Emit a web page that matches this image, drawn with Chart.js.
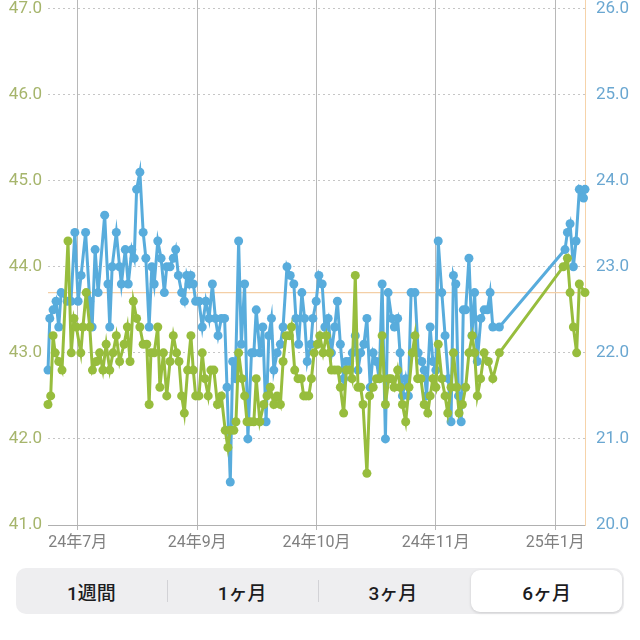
<!DOCTYPE html>
<html lang="ja">
<head>
  <meta charset="UTF-8" />
  <title>体重グラフ</title>
  <script src="https://cdn.jsdelivr.net/npm/chart.js"></script>
  <style>
    body { margin: 0; padding: 0; background: #fff; width: 640px; height: 640px; overflow: hidden; position: relative; font-family: Roboto, "Noto Sans CJK JP", sans-serif; }
    .chart-box { position: absolute; left: 0; top: -11px; width: 640px; height: 570px; }
    .segment { position: absolute; left: 16px; top: 568px; width: 608px; height: 46px; background: #eeeef0; border-radius: 10px; display: flex; }
    .segment div { flex: 1; position: relative; display: flex; align-items: center; justify-content: center; font-size: 19px; font-weight: 500; color: #1c1c1e; }
    .segment div + div::before { content: ""; position: absolute; left: 0; top: 12px; height: 22px; border-left: 1px solid #d2d2d6; }
    .segment .active { background: #fff; border-radius: 9px; margin: 2px 2px 2px 3px; box-shadow: 0 1px 3px rgba(0,0,0,0.15); }
    .segment .active::before, .segment .active + div::before { display: none; }
  </style>
</head>
<body>
  <div class="chart-box"><canvas id="weightChart"></canvas></div>

  <div class="segment">
    <div>1週間</div>
    <div>1ヶ月</div>
    <div>3ヶ月</div>
    <div class="active">6ヶ月</div>
  </div>

  <script>
    // x = days from the left edge of the 6-month range
    const tickDays = [10, 50, 90, 130, 170];
    const tickLabels = ["24年7月", "24年9月", "24年10月", "24年11月", "25年1月"];
    const targetWeight = 43.7;

    const weightDays = [0,0.9,1.7,2.4,3.6,4.7,6.7,7.8,8.7,9.5,
      11.0,11.7,12.8,14.0,14.9,16.2,17.3,18.4,19.5,20.7,
      21.8,22.9,24.0,25.5,26.6,27.5,28.6,29.7,30.8,31.9,
      33.1,33.9,34.5,35.6,36.8,37.5,38.7,39.8,40.9,42.0,
      43.1,43.9,44.8,45.7,46.8,47.9,48.7,49.5,50.6,51.7,
      52.6,53.7,54.6,55.6,56.8,58.1,59.4,60.3,61.1,62.3,
      63.0,63.9,65.0,65.9,66.7,67.8,69.0,69.8,71.0,72.3,
      73.4,74.5,75.7,76.8,77.9,78.8,79.8,80.9,81.6,82.7,
      83.8,84.9,85.7,86.5,87.4,88.3,89.2,90.3,91.1,92.2,
      93.3,94.4,95.0,96.1,97.2,98.0,99.1,100.0,101.1,101.9,
      103.0,103.9,104.8,105.6,106.9,107.8,109.0,110.1,111.2,112.0,
      113.1,114.2,115.0,116.0,117.2,118.0,118.8,119.9,121.0,122.1,
      123.0,123.9,125.0,126.1,127.3,128.1,129.0,130.0,130.8,132.0,
      133.1,134.0,135.1,135.9,137.0,137.8,138.9,140.0,141.1,142.2,
      143.0,143.9,145.0,146.2,147.6,149.1,151.3,172.7,174.1,175.0,
      176.1,177.2,178.1,180.0];
    const weightValues = [42.4,42.5,43.2,43.0,42.9,42.8,44.3,43.0,43.4,43.3,
      43.0,43.3,43.7,43.3,42.8,42.9,43.0,42.8,43.1,42.8,
      43.0,43.2,42.9,43.1,43.3,42.9,43.6,43.4,43.3,43.1,
      43.1,42.4,43.0,43.0,43.3,42.6,43.0,42.5,42.9,43.2,
      43.0,42.9,42.5,42.3,42.8,43.2,42.8,42.5,42.5,43.0,
      42.7,42.5,42.8,42.8,42.4,42.5,42.1,41.9,42.1,42.1,
      42.2,43.0,42.7,42.5,42.2,42.2,42.2,42.7,42.2,42.4,
      42.5,42.6,42.4,42.5,42.4,42.9,43.2,43.2,43.3,42.8,
      42.7,42.7,42.5,42.5,42.5,42.7,43.0,43.1,43.2,43.0,
      43.2,43.0,42.8,42.8,42.8,42.6,42.3,42.8,42.8,42.7,
      43.9,42.6,42.6,42.4,41.6,42.5,42.6,42.7,42.7,43.2,
      42.4,42.7,42.7,42.6,42.8,42.6,42.4,42.2,42.6,43.0,
      43.2,42.7,42.7,42.4,42.3,42.5,42.7,42.6,43.1,42.7,
      42.5,42.3,42.6,43.0,42.6,42.3,42.4,42.6,43.0,43.2,
      43.0,42.5,42.7,43.0,42.9,42.7,43.0,44.0,44.1,43.7,
      43.3,43.0,43.8,43.7];

    const bmiDays = [0,0.6,1.7,2.7,3.6,4.4,6.4,7.7,9.0,10.1,
      11.1,12.6,14.0,14.8,15.8,16.8,19.0,20.1,20.7,21.5,
      22.9,24.0,24.6,25.9,26.9,28.1,28.9,29.7,30.8,31.9,
      32.8,33.9,34.8,35.6,36.8,37.9,39.0,39.8,40.9,42.0,
      42.8,43.7,44.8,45.7,46.5,47.3,47.9,48.7,49.5,50.6,
      51.7,52.9,54.0,55.1,56.1,57.0,58.1,59.2,60.0,61.1,
      61.9,62.8,63.9,64.8,65.9,67.0,68.2,69.0,69.8,71.0,
      72.0,73.1,74.0,74.9,75.7,76.8,77.9,78.8,80.1,81.2,
      82.4,83.1,84.0,85.1,86.0,86.9,88.1,88.8,89.9,90.8,
      91.9,92.8,93.9,95.0,96.1,97.0,98.0,99.1,100.0,101.1,
      102.0,103.0,103.9,104.8,105.9,106.9,108.0,109.0,110.1,111.0,
      112.0,113.1,114.0,115.2,116.1,117.2,118.0,118.8,119.9,120.8,
      121.7,123.0,124.1,125.3,126.1,126.9,128.1,129.0,130.0,130.8,
      132.0,133.1,134.2,135.1,135.9,136.7,137.6,138.5,139.2,140.0,
      141.1,142.1,143.0,143.9,145.1,146.2,147.3,148.2,149.1,151.3,
      173.3,174.1,175.0,176.1,177.0,178.1,179.5,180.0];
    const bmiValues = [21.8,22.4,22.5,22.6,22.3,22.7,22.6,22.6,23.4,22.6,
      22.9,23.4,22.6,22.3,23.2,22.7,23.6,22.8,22.3,23.0,
      23.4,23.0,22.8,23.2,22.8,23.2,23.1,23.9,24.1,23.4,
      23.1,22.3,23.0,22.8,23.3,23.1,22.7,23.0,23.0,23.1,
      23.2,22.9,22.7,22.6,22.9,22.8,22.9,22.8,22.6,22.6,
      22.3,22.6,22.4,22.8,22.4,22.2,22.4,22.4,21.6,20.5,
      21.9,21.7,23.3,22.1,22.8,21.0,22.0,22.0,22.5,22.0,
      22.3,21.2,22.2,22.4,21.8,22.0,22.1,22.3,23.0,22.9,
      22.8,22.4,22.1,22.7,22.4,21.9,22.1,22.4,22.6,22.9,
      22.8,22.3,22.4,22.0,22.3,22.6,22.1,21.7,21.9,21.9,
      22.0,22.2,21.8,22.0,22.1,22.4,21.6,22.0,21.9,21.7,
      22.8,21.0,22.7,22.4,22.3,22.4,22.0,21.5,21.7,21.5,
      22.7,22.7,22.0,21.9,21.8,21.5,22.3,21.9,21.8,23.3,
      22.7,22.2,21.7,21.2,22.9,22.8,21.5,21.2,22.5,22.5,
      23.1,22.2,22.7,21.9,22.4,22.5,22.5,22.7,22.3,22.3,
      23.2,23.4,23.5,23.0,23.3,23.9,23.8,23.9];

    const green = "#97bd3d";
    const blue = "#58acdc";
    const fontFamily = "Roboto, 'Noto Sans CJK JP', sans-serif";

    const targetLine = {
      id: "targetLine",
      beforeDatasetsDraw(chart) {
        const { ctx, chartArea, scales } = chart;
        const y = scales.y.getPixelForValue(targetWeight);
        ctx.save();
        ctx.strokeStyle = "#f4cfa6";
        ctx.lineWidth = 1.2;
        ctx.beginPath();
        ctx.moveTo(chartArea.left, y);
        ctx.lineTo(chartArea.right, y);
        ctx.stroke();
        ctx.restore();
      }
    };

    // fixed axis sizes so the plot sits where the app draws it
    function fixWidth(w) {
      return axis => { axis.width = w; axis.paddingTop = 0; axis.paddingBottom = 0; };
    }

    new Chart(document.getElementById("weightChart"), {
      type: "line",
      data: {
        datasets: [
          {
            data: weightDays.map((d, i) => ({ x: d, y: weightValues[i] })),
            yAxisID: "y",
            borderColor: green,
            backgroundColor: green,
            borderWidth: 3,
            pointRadius: 4.5,
            pointBorderWidth: 0,
            clip: 10
          },
          {
            data: bmiDays.map((d, i) => ({ x: d, y: bmiValues[i] })),
            yAxisID: "y2",
            borderColor: blue,
            backgroundColor: blue,
            borderWidth: 3,
            pointRadius: 4.5,
            pointBorderWidth: 0,
            clip: 10
          }
        ]
      },
      options: {
        responsive: true,
        maintainAspectRatio: false,
        animation: false,
        layout: { padding: { top: 11, left: 0, right: 0, bottom: 0 } },
        plugins: { legend: { display: false }, tooltip: { enabled: false } },
        scales: {
          x: {
            type: "linear",
            min: 0,
            max: 180,
            afterBuildTicks: axis => { axis.ticks = tickDays.map(v => ({ value: v })); },
            afterFit: axis => { axis.height = 34; },
            ticks: {
              autoSkip: false,
              maxRotation: 0,
              padding: 3,
              color: "#808080",
              font: { family: fontFamily, size: 16 },
              callback: v => tickLabels[tickDays.indexOf(v)]
            },
            grid: { color: "#b8b8b8", lineWidth: 1, tickLength: 5 },
            border: { display: true, color: "#b0b0b0", width: 1 }
          },
          y: {
            position: "left",
            min: 41,
            max: 47.1,
            afterFit: fixWidth(48),
            ticks: {
              stepSize: 1,
              includeBounds: false,
              padding: 6,
              color: "#a6b56c",
              font: { family: fontFamily, size: 17 },
              callback: v => v.toFixed(1)
            },
            grid: { color: "#c6c6c6", drawTicks: false },
            border: { display: false, dash: [2, 3] }
          },
          y2: {
            position: "right",
            min: 20,
            max: 26.1,
            afterFit: fixWidth(55),
            ticks: {
              stepSize: 1,
              includeBounds: false,
              padding: 11,
              color: "#6aa7d1",
              font: { family: fontFamily, size: 17 },
              callback: v => v.toFixed(1)
            },
            grid: { display: false, drawTicks: false },
            border: { display: true, color: "#f6d3aa", width: 1 }
          }
        }
      },
      plugins: [targetLine]
    });
  </script>
</body>
</html>
